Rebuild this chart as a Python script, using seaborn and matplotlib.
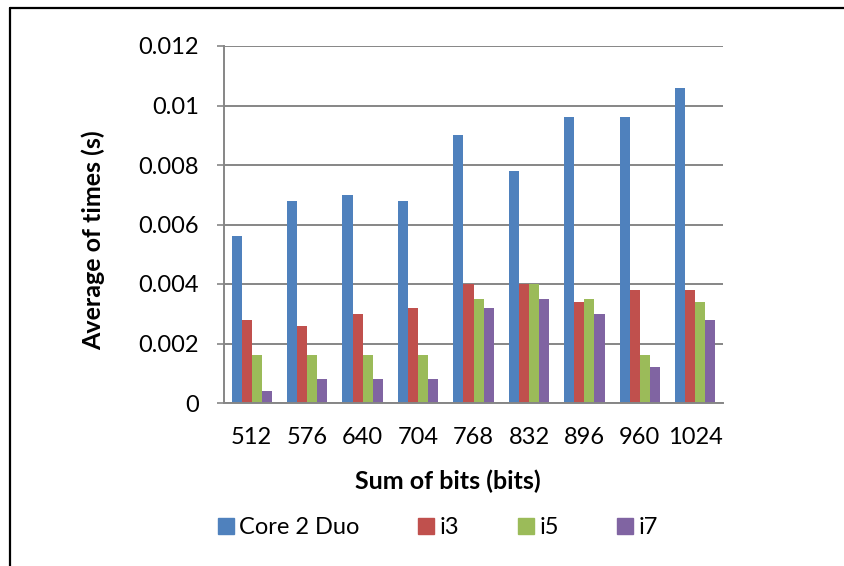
import matplotlib
matplotlib.use("Agg")
import matplotlib.pyplot as plt
import seaborn as sns
import pandas as pd
from matplotlib.lines import Line2D

categories = ["512", "576", "640", "704", "768", "832", "896", "960", "1024"]
core2duo = [0.0056, 0.0068, 0.0070, 0.0068, 0.0090, 0.0078, 0.0096, 0.0096, 0.0106]
i3 = [0.0028, 0.0026, 0.0030, 0.0032, 0.0040, 0.0040, 0.0034, 0.0038, 0.0038]
i5 = [0.0016, 0.0016, 0.0016, 0.0016, 0.0035, 0.0040, 0.0035, 0.0016, 0.0034]
i7 = [0.0004, 0.0008, 0.0008, 0.0008, 0.0032, 0.0035, 0.0030, 0.0012, 0.0028]
series_names = ["Core 2 Duo", "i3", "i5", "i7"]
series_values = [core2duo, i3, i5, i7]
colors = ["#4F81BD", "#C0504D", "#9BBB59", "#8064A2"]
yticks = [0, 0.002, 0.004, 0.006, 0.008, 0.010, 0.012]
ytick_labels = ["0", "0.002", "0.004", "0.006", "0.008", "0.01", "0.012"]

rows = []
for name, vals in zip(series_names, series_values):
    for c, v in zip(categories, vals):
        rows.append({"bits": c, "cpu": name, "time": v})
df = pd.DataFrame(rows)

sns.set_style("white")
plt.rcParams["font.family"] = ["Lato", "DejaVu Sans"]

fig = plt.figure(figsize=(8.44, 5.66), dpi=100)
W, H = 844, 566
L, R, T, B = 224, 723, 46, 403
ax = fig.add_axes([L / W, 1 - B / H, (R - L) / W, (B - T) / H])

sns.barplot(data=df, x="bits", y="time", hue="cpu", order=categories,
            hue_order=series_names, palette=colors, width=4 / 5.5,
            saturation=1, ax=ax, legend=False, edgecolor="none")

ax.set_ylim(0, 0.012)
ax.set_xlim(-0.5, len(categories) - 0.5)
ax.set_yticks(yticks)
ax.set_yticklabels(ytick_labels)
ax.yaxis.grid(True, color="#868686", linewidth=1.4)
ax.set_axisbelow(True)
for s in ["top", "right"]:
    ax.spines[s].set_visible(False)
for s in ["left", "bottom"]:
    ax.spines[s].set_color("#868686")
    ax.spines[s].set_linewidth(1.4)
ax.tick_params(axis="y", length=5, width=1.2, color="#868686", pad=13, labelsize=17,
               left=True, labelcolor="black")
ax.tick_params(axis="x", length=0, pad=17, labelsize=17, labelcolor="black")

ax.set_xlabel("Sum of bits (bits)", fontsize=18, fontweight="bold", va="center", color="black")
ax.xaxis.set_label_coords((448 - L) / (R - L), (B - 481) / (B - T))
ax.set_ylabel("Average of times (s)", fontsize=18, fontweight="bold", va="center", color="black")
ax.yaxis.set_label_coords((93 - L) / (R - L), (B - 240) / (B - T))

handles = [plt.Rectangle((0, 0), 1, 1, color=c) for c in colors]
leg = fig.legend(handles, series_names, loc="center", bbox_to_anchor=(438 / W, 1 - 528 / H),
                 ncol=4, frameon=False, fontsize=17, handlelength=0.68, handleheight=0.64,
                 handletextpad=0.25, columnspacing=2.46)
for t in leg.get_texts():
    t.set_color("black")

fig.add_artist(Line2D([10 / W, 1], [1 - 8 / H, 1 - 8 / H], color="black", lw=1.6,
                      transform=fig.transFigure))
fig.add_artist(Line2D([10 / W, 10 / W], [0, 1 - 8 / H], color="black", lw=1.6,
                      transform=fig.transFigure))

fig.savefig("out.png", dpi=100)
